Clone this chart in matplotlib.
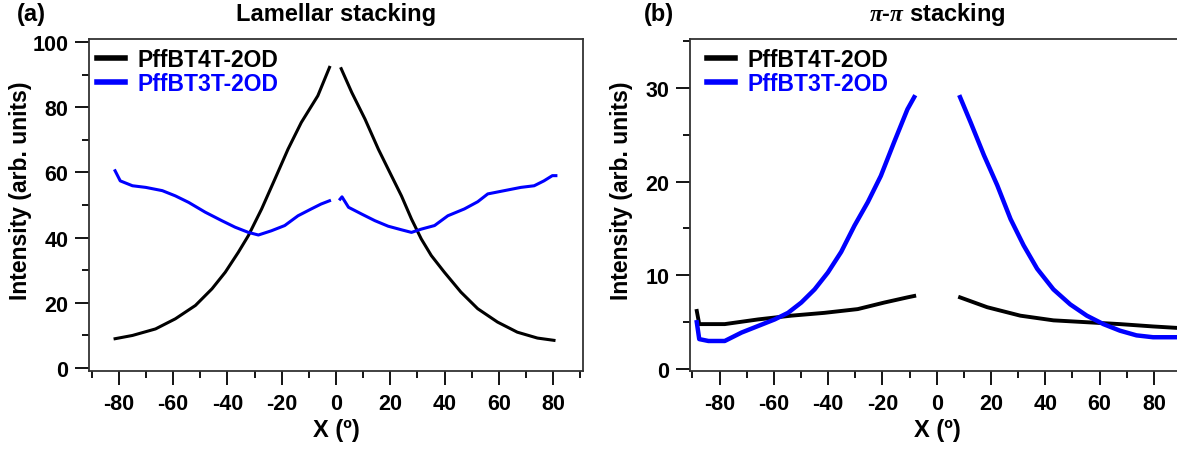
import numpy as np
import matplotlib
matplotlib.use("Agg")
import matplotlib.pyplot as plt
from matplotlib.ticker import MultipleLocator

plt.rcParams['font.family'] = ['Liberation Sans', 'DejaVu Sans']
plt.rcParams['font.weight'] = 'bold'
plt.rcParams['axes.unicode_minus'] = False
plt.rcParams['mathtext.fontset'] = 'custom'
plt.rcParams['mathtext.it'] = 'Liberation Serif:italic:bold'
plt.rcParams['mathtext.rm'] = 'Liberation Sans:bold'

labels = ["PffBT4T-2OD", "PffBT3T-2OD"]
colors = ["black", "blue"]

# (a) lamellar stacking
lam_4t_xn = [-81.4, -75, -66.5, -59.2, -51.8, -45.7, -40.8, -36, -32.3, -27.4, -22.5, -17.7, -12.8, -6.7, -2.4]
lam_4t_yn = [9.0, 10.0, 12.0, 15.1, 19.2, 24.3, 29.4, 35.5, 40.6, 48.8, 58, 67.1, 75.3, 83.5, 92.2]
lam_4t_xp = [1.9, 5.8, 10.7, 15.6, 20.4, 24.1, 27.8, 31.4, 35.1, 39.9, 46, 52.2, 59.5, 66.8, 74.2, 80.3]
lam_4t_yp = [91.8, 84.5, 76.3, 67.1, 59, 52.8, 45.7, 39.6, 34.5, 29.4, 23.3, 18.2, 14.1, 11.0, 9.2, 8.5]
lam_3t_xn = [-81.4, -79.5, -75, -70.1, -64, -59.2, -54.3, -48.2, -42.1, -37.2, -32.3, -28.6, -23.8, -18.9, -14, -9.1, -5.5, -2.4]
lam_3t_yn = [60.5, 57.4, 55.9, 55.4, 54.4, 52.8, 50.8, 47.8, 45.2, 43.2, 41.6, 40.8, 42.1, 43.7, 46.7, 48.8, 50.3, 51.3]
lam_3t_xp = [1.5, 2.2, 4.6, 9.5, 14.3, 19.2, 24.1, 27.8, 31.4, 36.3, 41.2, 47.3, 52.2, 55.9, 62, 68.1, 73, 76.6, 79.7, 81]
lam_3t_yp = [51.8, 52.5, 49.3, 47.2, 45.2, 43.5, 42.4, 41.6, 42.6, 43.7, 46.7, 48.8, 51, 53.4, 54.4, 55.4, 55.9, 57.4, 59, 59]

# (b) pi-pi stacking
pp_4t_xn = [-88.4, -87.5, -78.1, -65.8, -53.6, -41.4, -29.1, -19.3, -10.8, -8.3]
pp_4t_yn = [6.2, 4.8, 4.8, 5.3, 5.7, 6.0, 6.4, 7.1, 7.65, 7.8]
pp_4t_xp = [8.6, 18.6, 30.8, 43, 55.3, 67.5, 79.7, 88.3, 91]
pp_4t_yp = [7.65, 6.6, 5.7, 5.2, 5.0, 4.8, 4.55, 4.4, 4.4]
pp_3t_xn = [-88.4, -87.5, -84.1, -78.1, -71.9, -65.8, -59.7, -54.8, -49.9, -45, -40.1, -35.2, -30.3, -25.4, -20.6, -15.7, -10.8, -8.3]
pp_3t_yn = [5.0, 3.2, 3.0, 3.0, 3.9, 4.6, 5.3, 6.0, 7.1, 8.5, 10.3, 12.5, 15.3, 17.8, 20.6, 24.2, 27.7, 29.0]
pp_3t_xp = [8.6, 12.5, 17.4, 22.3, 27.2, 32, 37, 43, 49.2, 55.3, 61.4, 67.5, 73.6, 79.7, 88.3, 91]
pp_3t_yp = [29.0, 26.3, 22.8, 19.6, 16.0, 13.2, 10.7, 8.5, 6.9, 5.7, 4.8, 4.1, 3.6, 3.4, 3.4, 3.4]

W, H = 1177, 452
fig = plt.figure(figsize=(W / 100, H / 100), dpi=100)
ax1 = fig.add_axes([89.3 / W, 80 / H, 494 / W, 332 / H])
ax2 = fig.add_axes([690 / W, 80 / H, 494 / W, 332 / H])


def style(ax, ylim, ymaj, ymin):
    ax.set_xlim(-90.9, 91.1)
    ax.set_ylim(*ylim)
    ax.xaxis.set_major_locator(MultipleLocator(20))
    ax.xaxis.set_minor_locator(MultipleLocator(10))
    ax.yaxis.set_major_locator(MultipleLocator(ymaj))
    ax.yaxis.set_minor_locator(MultipleLocator(ymin))
    ax.tick_params(which='both', direction='out', width=1.3, top=False, right=False)
    ax.tick_params(which='major', length=10, labelsize=15.5)
    ax.tick_params(which='minor', length=5)
    ax.tick_params(axis='x', pad=6)
    ax.tick_params(axis='y', pad=5)
    for s in ax.spines.values():
        s.set_linewidth(1.3)
        s.set_color('#333333')
    ax.set_xlabel("X (º)", fontsize=17, fontweight='bold', labelpad=3)
    ax.set_ylabel("Intensity (arb. units)", fontsize=16.5, fontweight='bold')
    ax.yaxis.set_label_coords(-0.116, 0.545)


# left panel
ax1.plot(lam_4t_xn, lam_4t_yn, color=colors[0], lw=2.2, label=labels[0])
ax1.plot(lam_4t_xp, lam_4t_yp, color=colors[0], lw=2.2)
ax1.plot(lam_3t_xn, lam_3t_yn, color=colors[1], lw=2.2, label=labels[1])
ax1.plot(lam_3t_xp, lam_3t_yp, color=colors[1], lw=2.2)
style(ax1, (-0.9, 100.9), 20, 10)
ax1.set_title("Lamellar stacking", fontsize=17, fontweight='bold', pad=14)

# right panel
ax2.plot(pp_4t_xn, pp_4t_yn, color=colors[0], lw=2.8, label=labels[0])
ax2.plot(pp_4t_xp, pp_4t_yp, color=colors[0], lw=2.8)
ax2.plot(pp_3t_xn, pp_3t_yn, color=colors[1], lw=3.2, label=labels[1])
ax2.plot(pp_3t_xp, pp_3t_yp, color=colors[1], lw=3.2)
style(ax2, (-0.2, 35.2), 10, 5)
ax2.set_title(r"$\pi$-$\pi$ stacking", fontsize=17, fontweight='bold', pad=14)
ax2.spines['right'].set_visible(False)

for ax, dx in [(ax1, 8), (ax2, 17)]:
    leg = ax.legend(loc='upper left', bbox_to_anchor=(dx / 494, 1 - 9 / 332), frameon=False,
                    fontsize=16.5, borderpad=0, borderaxespad=0, handlelength=1.2,
                    handletextpad=0.55, labelspacing=0.05)
    for line, txt, c in zip(leg.get_lines(), leg.get_texts(), colors):
        line.set_linewidth(4)
        txt.set_color(c)
        txt.set_fontweight('bold')

fig.text(17 / W, 1 - 14 / H, "(a)", fontsize=17, fontweight='bold', va='center', ha='left')
fig.text(644 / W, 1 - 14 / H, "(b)", fontsize=17, fontweight='bold', va='center', ha='left')

fig.savefig("out.png", dpi=100)
